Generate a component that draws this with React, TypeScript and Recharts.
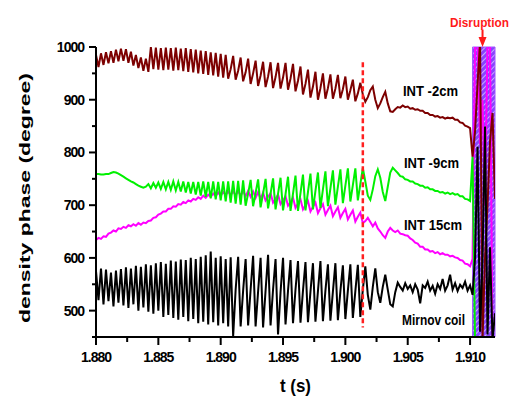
import React from "react";
import {
  LineChart,
  Line,
  XAxis,
  YAxis,
  ReferenceArea,
  ReferenceLine,
} from "recharts";

// sampling clock of the traces (s)
const t0 = 1.88;
const dt = 0.0002;

// INT -2cm (dark red)
const int2 = [
  985, 962, 988, 966, 990, 969, 992, 970, 995, 973,
  997, 974, 996, 970, 991, 965, 985, 960, 980, 955,
  978, 953, 1000, 958, 999, 957, 998, 956, 999, 957,
  998, 955, 999, 956, 997, 954, 998, 953, 996, 952,
  995, 950, 993, 949, 992, 947, 990, 946, 989, 944,
  987, 942, 985, 940, 958, 983, 938, 955, 980, 935,
  952, 978, 930, 950, 974, 926, 946, 972, 924, 944,
  971, 922, 943, 970, 921, 942, 970, 919, 940, 968,
  916, 936, 963, 910, 930, 957, 904, 925, 953, 900,
  922, 950, 902, 922, 948, 902, 921, 947, 903, 920,
  944, 900, 918, 938, 897, 912, 932, 910, 896, 905,
  918, 925, 900, 884, 893, 905, 915, 893, 878, 877,
  882, 886, 885, 889, 886, 887, 883, 884, 881, 882,
  879, 879, 875, 875, 871, 871, 868, 869, 866, 867,
  864, 866, 865, 866, 862, 862, 857, 856, 851, 849,
  846, 792, 840, 930, 1010, 445, 600, 700, 820, 875, 712,
];

// INT -9cm (green)
const int9 = [
  759, 759, 758, 758, 759, 759, 761, 763, 762, 760,
  757, 754, 751, 748, 745, 743, 740, 737, 735, 733,
  735, 740, 732, 742, 733, 743, 731, 744, 730, 744,
  729, 745, 728, 744, 726, 745, 724, 744, 722, 744,
  720, 744, 718, 745, 716, 744, 713, 745, 711, 744,
  709, 745, 707, 745, 705, 746, 703, 746, 701, 747,
  699, 722, 748, 698, 723, 749, 696, 722, 750, 694,
  722, 751, 692, 722, 752, 690, 721, 754, 689, 722,
  756, 689, 723, 758, 690, 725, 760, 692, 727, 762,
  695, 730, 764, 698, 732, 766, 701, 735, 768, 704,
  737, 770, 707, 738, 770, 709, 740, 770, 745, 718,
  710, 730, 755, 768, 752, 725, 708, 735, 762, 771,
  766, 761, 755, 754, 749, 748, 745, 745, 741, 740,
  737, 737, 733, 734, 730, 730, 727, 727, 724, 725,
  722, 724, 721, 723, 720, 721, 717, 717, 712, 711,
  708, 792, 440, 440, 440, 440, 440, 440, 440, 440, 440,
];

// INT 15cm (magenta)
const int15 = [
  634, 638, 636, 641, 640, 646, 648, 652, 650, 656,
  655, 659, 657, 662, 660, 664, 661, 666, 663, 667,
  666, 670, 671, 676, 677, 682, 684, 688, 688, 693,
  693, 698, 697, 702, 701, 706, 704, 709, 707, 712,
  710, 715, 712, 718, 714, 720, 716, 722, 717, 724,
  718, 725, 719, 726, 719, 726, 719, 727, 718, 727,
  717, 727, 716, 726, 714, 725, 712, 724, 709, 716,
  723, 705, 712, 720, 702, 709, 717, 699, 706, 714,
  695, 703, 711, 692, 700, 708, 688, 697, 705, 685,
  694, 702, 682, 691, 699, 679, 688, 696, 676, 685,
  693, 673, 682, 690, 669, 678, 686, 666, 670, 676,
  668, 660, 667, 656, 650, 643, 638, 650, 657, 652,
  649, 652, 646, 645, 643, 642, 637, 634, 629, 627,
  621, 621, 616, 616, 612, 613, 609, 611, 607, 609,
  606, 606, 603, 604, 601, 600, 596, 595, 589, 588,
  584, 598, 1010, 1010, 815, 900, 700, 1010, 1010, 440, 440,
];

// Mirnov coil (black)
const mirnov = [
  575, 520, 580, 512, 578, 518, 572, 508, 576, 515,
  579, 510, 582, 505, 580, 512, 585, 500, 583, 506,
  588, 498, 586, 494, 590, 500, 592, 488, 589, 492,
  595, 486, 593, 483, 597, 488, 596, 480, 600, 484,
  598, 476, 602, 479, 605, 474, 612, 478, 600, 472,
  603, 476, 598, 470, 601, 452, 540, 602, 470, 538,
  598, 472, 540, 604, 470, 536, 600, 468, 538, 606,
  472, 540, 598, 455, 535, 600, 474, 538, 596, 476,
  540, 594, 477, 538, 592, 478, 536, 590, 479, 537,
  594, 480, 538, 588, 481, 536, 590, 482, 537, 586,
  484, 538, 588, 486, 537, 587, 488, 540, 584, 530,
  502, 545, 580, 535, 515, 545, 568, 540, 512, 508,
  535, 553, 545, 538, 552, 541, 548, 535, 550, 540,
  514, 548, 543, 555, 538, 547, 532, 550, 541, 560,
  538, 548, 568, 540, 552, 537, 549, 543, 555, 538,
  548, 530, 600, 811, 460, 597, 849, 455, 620, 445, 495,
];

const xMajor = [1.88, 1.885, 1.89, 1.895, 1.9, 1.905, 1.91];
const xTicks = [1.88, 1.8825, 1.885, 1.8875, 1.89, 1.8925, 1.895, 1.8975, 1.9, 1.9025, 1.905, 1.9075, 1.91];
const yTicks = [450, 500, 550, 600, 650, 700, 750, 800, 850, 900, 950, 1000];

const markerT = 1.9014; // red dashed marker
const disruptT = 1.911;

const rows = int2.map((v, i) => ({
  t: t0 + i * dt,
  int2: v,
  int9: int9[i],
  int15: int15[i],
  mirnov: mirnov[i],
}));

const font = "'Liberation Sans', Arial, sans-serif";

const XTick = (props: any) => {
  const { x, y, payload } = props;
  const major = xMajor.some((v) => Math.abs(v - payload.value) < 1e-6);
  const axisY = y - 10;
  return (
    <g>
      <line x1={x} y1={axisY} x2={x} y2={axisY + (major ? 8 : 5)} stroke="#000" strokeWidth={2} />
      {major && (
        <text x={x} y={y + 15} textAnchor="middle" fontFamily={font} fontWeight="bold" fontSize={14} letterSpacing={-1} fill="#000">
          {payload.value.toFixed(3)}
        </text>
      )}
    </g>
  );
};

const YTick = (props: any) => {
  const { x, y, payload } = props;
  const major = payload.value % 100 === 0;
  const axisX = x + 12;
  return (
    <g>
      <line x1={axisX - (major ? 7 : 4)} y1={y} x2={axisX} y2={y} stroke="#000" strokeWidth={2} />
      {major && (
        <text x={x} y={y + 5} textAnchor="end" fontFamily={font} fontWeight="bold" fontSize={14} letterSpacing={-1} fill="#000">
          {payload.value}
        </text>
      )}
    </g>
  );
};

const Arrow = (p: any) => (
  <g>
    <line x1={p.x1} y1={p.y1} x2={p.x2} y2={p.y2 - 9} stroke="#ff1a1a" strokeWidth={2} />
    <polygon points={`${p.x2 - 4},${p.y2 - 10} ${p.x2 + 4},${p.y2 - 10} ${p.x2},${p.y2}`} fill="#ff1a1a" />
  </g>
);

const labelStyle = { fontFamily: font, fontWeight: "bold" as const, fill: "#000" };

export default function App() {
  return (
    <div style={{ position: "absolute", left: 0, top: 0, width: 513, height: 398, background: "#fff" }}>
      <LineChart width={513} height={398} data={rows} margin={{ top: 47, right: 18, left: 0, bottom: 0 }}>
        <defs>
          <pattern id="hatch" patternUnits="userSpaceOnUse" width={4} height={4} patternTransform="rotate(45)">
            <rect width={4} height={4} fill="#8844ff" />
            <line x1={0} y1={0} x2={0} y2={4} stroke="#d9c8ff" strokeWidth={1.6} />
          </pattern>
        </defs>
        <XAxis
          dataKey="t"
          type="number"
          domain={[1.88, 1.912]}
          allowDataOverflow
          ticks={xTicks}
          interval={0}
          height={61}
          tickSize={8}
          tickMargin={2}
          tickLine={false}
          tick={<XTick />}
          axisLine={{ stroke: "#000", strokeWidth: 2 }}
        />
        <YAxis
          type="number"
          domain={[450, 1000]}
          allowDataOverflow
          ticks={yTicks}
          interval={0}
          width={96}
          tickSize={7}
          tickMargin={5}
          tickLine={false}
          tick={<YTick />}
          axisLine={{ stroke: "#000", strokeWidth: 2 }}
        />
        <ReferenceArea x1={1.9102} x2={1.912} y1={450} y2={1000} fill="url(#hatch)" fillOpacity={1} stroke="#a055ff" strokeWidth={1} />
        <Line dataKey="int15" stroke="#ff00ff" strokeWidth={2} dot={false} activeDot={false} isAnimationActive={false} />
        <Line dataKey="int9" stroke="#00f000" strokeWidth={2} dot={false} activeDot={false} isAnimationActive={false} />
        <Line dataKey="int2" stroke="#7d0000" strokeWidth={2} dot={false} activeDot={false} isAnimationActive={false} />
        <Line dataKey="mirnov" stroke="#000000" strokeWidth={2} dot={false} activeDot={false} isAnimationActive={false} />
        <ReferenceLine
          segment={[{ x: markerT, y: 971 }, { x: markerT, y: 468 }]}
          stroke="#ff2020"
          strokeWidth={2.5}
          strokeDasharray="5 3"
          ifOverflow="visible"
        />
        <ReferenceLine
          segment={[{ x: disruptT, y: 1033 }, { x: disruptT, y: 1000 }]}
          ifOverflow="visible"
          shape={Arrow}
        />
      </LineChart>
      <svg width={513} height={398} style={{ position: "absolute", left: 0, top: 0, pointerEvents: "none" }}>
        <text x={30} y={198} transform="rotate(-90 30 198)" textAnchor="middle" fontSize={15} textLength={250} lengthAdjust="spacingAndGlyphs" {...labelStyle}>
          density phase (degree)
        </text>
        <text x={280} y={392} fontSize={18} textLength={31} lengthAdjust="spacingAndGlyphs" {...labelStyle}>
          t (s)
        </text>
        <text x={403} y={96} fontSize={15} textLength={55} lengthAdjust="spacingAndGlyphs" {...labelStyle}>
          INT -2cm
        </text>
        <text x={404} y={168} fontSize={15} textLength={55} lengthAdjust="spacingAndGlyphs" {...labelStyle}>
          INT -9cm
        </text>
        <text x={404} y={230} fontSize={15} textLength={58} lengthAdjust="spacingAndGlyphs" {...labelStyle}>
          INT 15cm
        </text>
        <text x={402} y={325} fontSize={15} textLength={63} lengthAdjust="spacingAndGlyphs" {...labelStyle}>
          Mirnov coil
        </text>
        <text x={450} y={27} fontSize={12} textLength={59} lengthAdjust="spacingAndGlyphs" fontFamily={font} fontWeight="bold" fill="#ff1a1a">
          Disruption
        </text>
      </svg>
    </div>
  );
}
